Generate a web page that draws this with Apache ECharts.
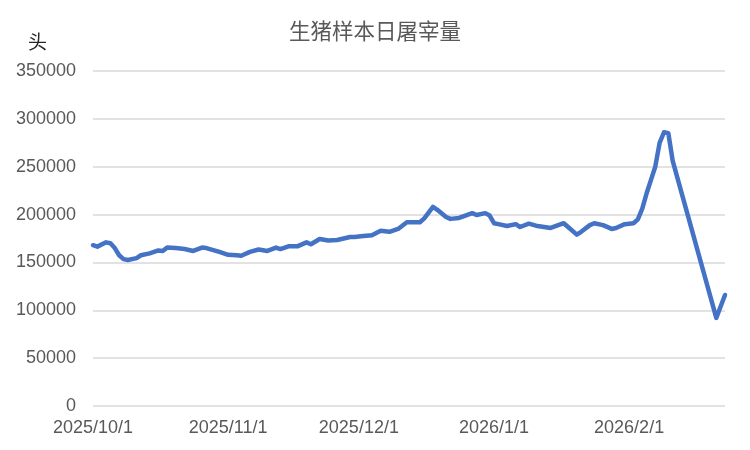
<!DOCTYPE html>
<html>
<head>
<meta charset="utf-8">
<script src="https://cdn.jsdelivr.net/npm/echarts@6/dist/echarts.min.js"></script>
<style>
html,body{margin:0;padding:0;background:#fff;}
#chart{width:750px;height:450px;}
</style>
</head>
<body>
<div id="chart"></div>
<script>
// ---- data ----
const chartTitle = '生猪样本日屠宰量';
const unitLabel = '头';
const dates = [
  '2025/10/01','2025/10/02','2025/10/04','2025/10/05','2025/10/06','2025/10/07','2025/10/08','2025/10/09',
  '2025/10/11','2025/10/12','2025/10/14','2025/10/16','2025/10/17','2025/10/18','2025/10/20','2025/10/22',
  '2025/10/24','2025/10/26','2025/10/27','2025/10/30',
  '2025/11/01','2025/11/03','2025/11/04','2025/11/06','2025/11/08','2025/11/10','2025/11/12','2025/11/13',
  '2025/11/15','2025/11/17','2025/11/19','2025/11/20','2025/11/22','2025/11/24','2025/11/26','2025/11/29','2025/11/30',
  '2025/12/02','2025/12/04','2025/12/06','2025/12/08','2025/12/10','2025/12/12','2025/12/15','2025/12/16',
  '2025/12/18','2025/12/19','2025/12/21','2025/12/22','2025/12/24','2025/12/27','2025/12/28','2025/12/30','2025/12/31',
  '2026/01/01','2026/01/02','2026/01/04','2026/01/06','2026/01/07','2026/01/09','2026/01/11','2026/01/14',
  '2026/01/17','2026/01/18','2026/01/20','2026/01/21','2026/01/23','2026/01/24','2026/01/26','2026/01/28',
  '2026/01/29','2026/01/31',
  '2026/02/02','2026/02/03','2026/02/04','2026/02/05','2026/02/06','2026/02/07','2026/02/08','2026/02/09',
  '2026/02/10','2026/02/11','2026/02/21','2026/02/23'
];
const slaughter = [
  168000,166500,171000,170000,165000,157500,153500,152500,
  154500,157500,159500,162500,162000,165500,165000,164000,
  162000,165500,165000,161000,
  158000,157500,157000,161000,163500,162000,165500,164000,
  167000,167000,171000,169000,174500,173000,173500,176500,176500,
  177500,178500,183000,182000,185000,192000,192000,196000,
  208000,205000,197500,195500,196500,201500,199500,201500,199000,
  191000,190000,188000,190000,187000,190500,188000,186000,
  191000,187000,179000,182000,189000,191000,189000,185000,
  186000,190000,
  191000,195000,206000,222000,236000,250000,275000,286000,
  285000,256000,92000,116000
];
const xTickDates = ['2025/10/01','2025/11/01','2025/12/01','2026/01/01','2026/02/01'];
const xMinDate = '2025/10/01';
const xMaxDate = '2026/02/23';
const yMin = 0, yMax = 350000, yStep = 50000;

// ---- helpers ----
function ts(s){ const p = s.split('/').map(Number); return Date.UTC(p[0], p[1]-1, p[2]); }
function fmt(v){ const d = new Date(v); return d.getUTCFullYear() + '/' + (d.getUTCMonth()+1) + '/' + d.getUTCDate(); }
const seriesData = dates.map((d,i) => [ts(d), slaughter[i]]);

const chart = echarts.init(document.getElementById('chart'), null, {renderer:'canvas'});
const axisFont = "'Liberation Sans', 'Noto Sans CJK SC', sans-serif";
chart.setOption({
  animation: false,
  backgroundColor: '#ffffff',
  title: [
    { text: chartTitle, left: 'center', top: 20, padding: 0,
      textStyle: { fontSize: 21.5, fontWeight: 'normal', color: '#595959', fontFamily: "'Noto Sans CJK SC', sans-serif" } },
    { text: unitLabel, left: 28, top: 32, padding: 0,
      textStyle: { fontSize: 19, fontWeight: 'normal', color: '#262626', fontFamily: "'Noto Sans CJK SC', sans-serif" } }
  ],
  grid: { left: 93, right: 25, top: 71, bottom: 44, containLabel: false },
  xAxis: {
    type: 'value',
    min: ts(xMinDate),
    max: ts(xMaxDate),
    axisLine: { show: false },
    axisTick: { show: false },
    splitLine: { show: false },
    axisLabel: {
      customValues: xTickDates.map(ts),
      showMinLabel: true, showMaxLabel: true, hideOverlap: false,
      fontSize: 18, color: '#595959', fontFamily: axisFont, margin: 13,
      formatter: function(v){ return fmt(v); }
    }
  },
  yAxis: {
    type: 'value',
    min: yMin, max: yMax, interval: yStep,
    axisLine: { show: false },
    axisTick: { show: false },
    splitLine: { show: true, lineStyle: { color: '#d9d9d9', width: 1.5 } },
    axisLabel: { fontSize: 18, color: '#595959', fontFamily: axisFont, margin: 17,
      formatter: function(v){ return String(v); } }
  },
  series: [{
    type: 'line',
    data: seriesData,
    showSymbol: false,
    smooth: false,
    lineStyle: { color: '#4472C4', width: 4.5, cap: 'round', join: 'round' },
    itemStyle: { color: '#4472C4' }
  }]
});
</script>
</body>
</html>
